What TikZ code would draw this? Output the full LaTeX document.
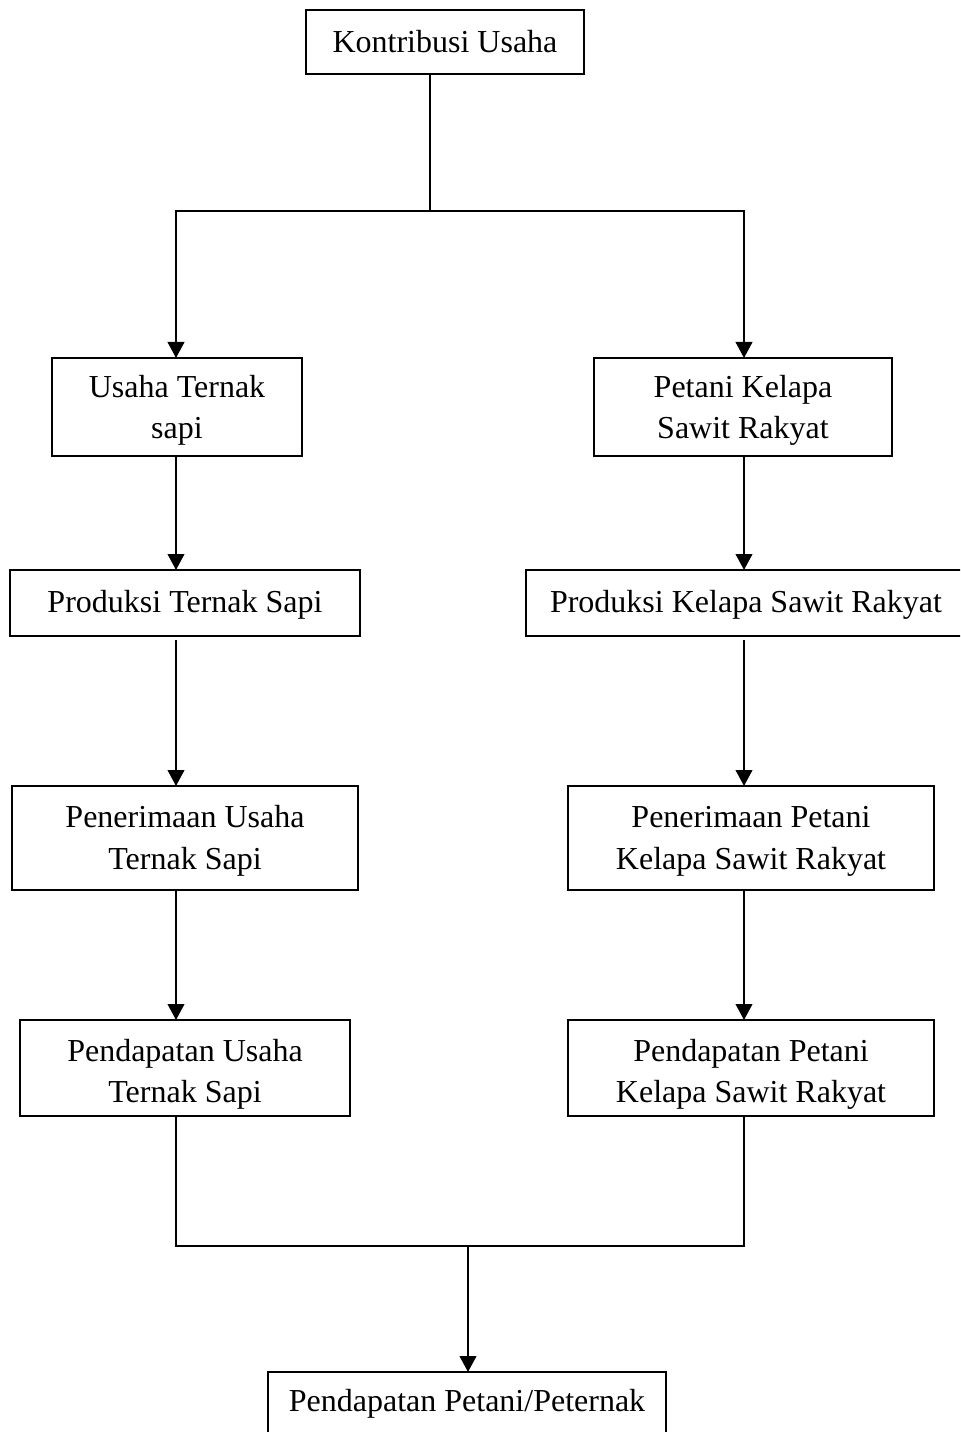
\documentclass[tikz,border=0pt]{standalone}
\usepackage{fontspec}
\setmainfont{Liberation Serif}
\usetikzlibrary{arrows.meta}
\begin{document}
\begin{tikzpicture}[x=0.375pt,y=-0.375pt,
  box/.style={draw,line width=0.85pt,rectangle,inner sep=0pt,outer sep=0pt},
  txt/.style={anchor=base,inner sep=0pt,font=\fontsize{12pt}{15pt}\selectfont},
  conn/.style={line width=0.9pt},
  arr/.style={line width=0.9pt,-{Triangle[length=6pt,width=6.2pt]}}]
\useasboundingbox (0,0) rectangle (960,1432);
\clip (0,0) rectangle (960,1432);
\fill[white] (0,0) rectangle (960,1432);
% boxes
\node[box,minimum width=278*0.375pt,minimum height=64*0.375pt] (k) at (445,42) {};
\node[box,minimum width=250*0.375pt,minimum height=98*0.375pt] (a1) at (177,407) {};
\node[box,minimum width=298*0.375pt,minimum height=98*0.375pt] (b1) at (743,407) {};
\node[box,minimum width=350*0.375pt,minimum height=66*0.375pt] (a2) at (185,603) {};
\node[box,minimum width=440*0.375pt,minimum height=66*0.375pt] (b2) at (746,603) {};
\node[box,minimum width=346*0.375pt,minimum height=104*0.375pt] (a3) at (185,838) {};
\node[box,minimum width=366*0.375pt,minimum height=104*0.375pt] (b3) at (751,838) {};
\node[box,minimum width=330*0.375pt,minimum height=96*0.375pt] (a4) at (185,1068) {};
\node[box,minimum width=366*0.375pt,minimum height=96*0.375pt] (b4) at (751,1068) {};
\node[box,minimum width=398*0.375pt,minimum height=78*0.375pt] (p) at (467,1411) {};
% texts
\node[txt] (tk) at (445,53) {Kontribusi Usaha};
\node[txt] (ta1a) at (177,398) {Usaha Ternak};
\node[txt] (ta1b) at (177,439) {sapi};
\node[txt] (tb1a) at (743,398) {Petani Kelapa};
\node[txt] (tb1b) at (743,439) {Sawit Rakyat};
\node[txt] (ta2) at (185,612) {Produksi Ternak Sapi};
\node[txt] (tb2) at (746,612) {Produksi Kelapa Sawit Rakyat};
\node[txt] (ta3a) at (185,827) {Penerimaan Usaha};
\node[txt] (ta3b) at (185,869) {Ternak Sapi};
\node[txt] (tb3a) at (751,827) {Penerimaan Petani};
\node[txt] (tb3b) at (751,869) {Kelapa Sawit Rakyat};
\node[txt] (ta4a) at (185,1061) {Pendapatan Usaha};
\node[txt] (ta4b) at (185,1102) {Ternak Sapi};
\node[txt] (tb4a) at (751,1061) {Pendapatan Petani};
\node[txt] (tb4b) at (751,1102) {Kelapa Sawit Rakyat};
\node[txt] (tp) at (467,1411) {Pendapatan Petani/Peternak};
% junctions
\coordinate (j1) at (430,211);
\coordinate (lx) at (176,0);
\coordinate (rx) at (744,0);
\coordinate (j2) at (468,1246);
% connectors
\draw[conn] (k.south -| j1) -- (j1);
\draw[arr] (j1) -| (a1.north -| lx);
\draw[arr] (j1) -| (b1.north -| rx);
\draw[arr] (a1.south -| lx) -- (a2.north -| lx);
\draw[arr] (b1.south -| rx) -- (b2.north -| rx);
\draw[arr] ([yshift=-1.5pt]a2.south -| lx) -- (a3.north -| lx);
\draw[arr] ([yshift=-1.5pt]b2.south -| rx) -- (b3.north -| rx);
\draw[arr] (a3.south -| lx) -- (a4.north -| lx);
\draw[arr] (b3.south -| rx) -- (b4.north -| rx);
\draw[conn] (a4.south -| lx) -- (j2 -| lx) -- (j2 -| rx) -- (b4.south -| rx);
\draw[arr] (j2) -- (p.north -| j2);
\end{tikzpicture}
\end{document}
